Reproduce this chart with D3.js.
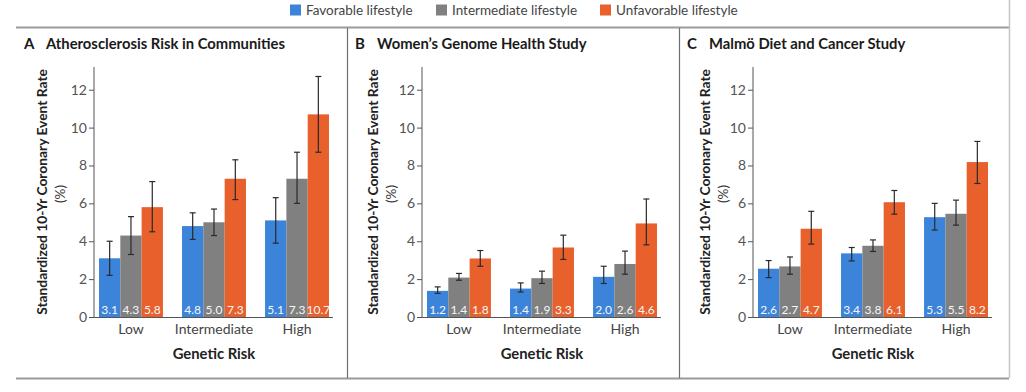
<!DOCTYPE html>
<html>
<head>
<meta charset="utf-8">
<script src="https://cdn.jsdelivr.net/npm/d3@7"></script>
<style>
  body { margin: 0; background: #fff; }
  svg { display: block; font-family: Lato, "Open Sans", sans-serif; }
</style>
</head>
<body>
<svg id="chart"></svg>
<script>
// lifestyle groups (legend / bar colours)
var lifestyles = ["Favorable lifestyle", "Intermediate lifestyle", "Unfavorable lifestyle"];
var geneticRisk = ["Low", "Intermediate", "High"];
var panelLetters = ["A", "B", "C"];
var panelTitles = ["Atherosclerosis Risk in Communities", "Women\u2019s Genome Health Study", "Malm\u00f6 Diet and Cancer Study"];
var yTicks = [0, 2, 4, 6, 8, 10, 12];

// rows = genetic risk (Low, Intermediate, High), columns = lifestyle
var aricRate = [[3.1, 4.3, 5.8], [4.8, 5.0, 7.3], [5.1, 7.3, 10.7]];
var aricLo   = [[2.2, 3.3, 4.5], [4.1, 4.3, 6.2], [3.9, 6.0, 8.7]];
var aricHi   = [[4.0, 5.3, 7.15], [5.5, 5.7, 8.3], [6.3, 8.7, 12.7]];
var aricText = [["3.1", "4.3", "5.8"], ["4.8", "5.0", "7.3"], ["5.1", "7.3", "10.7"]];

var wghsRate = [[1.38, 2.08, 3.09], [1.5, 2.05, 3.67], [2.12, 2.8, 4.94]];
var wghsLo   = [[1.25, 1.94, 2.68], [1.32, 1.77, 3.04], [1.77, 2.26, 3.81]];
var wghsHi   = [[1.59, 2.3, 3.51], [1.8, 2.42, 4.32], [2.68, 3.48, 6.23]];
var wghsText = [["1.2", "1.4", "1.8"], ["1.4", "1.9", "3.3"], ["2.0", "2.6", "4.6"]];

var mdcsRate = [[2.55, 2.67, 4.66], [3.36, 3.76, 6.06], [5.27, 5.45, 8.18]];
var mdcsLo   = [[2.08, 2.26, 3.85], [2.96, 3.46, 5.43], [4.59, 4.85, 7.05]];
var mdcsHi   = [[2.98, 3.17, 5.58], [3.67, 4.07, 6.68], [6.0, 6.17, 9.27]];
var mdcsText = [["2.6", "2.7", "4.7"], ["3.4", "3.8", "6.1"], ["5.3", "5.5", "8.2"]];

var colors = ["#3b84da", "#808080", "#e8602b"];

var panels = [
  { rate: aricRate, lo: aricLo, hi: aricHi, text: aricText },
  { rate: wghsRate, lo: wghsLo, hi: wghsHi, text: wghsText },
  { rate: mdcsRate, lo: mdcsLo, hi: mdcsHi, text: mdcsText }
];

var width = 1026, height = 392;
var svg = d3.select("#chart").attr("width", width).attr("height", height);

// frame lines
var frame = svg.append("g");
frame.append("line").attr("x1", 16).attr("x2", 1009).attr("y1", 27.5).attr("y2", 27.5)
  .attr("stroke", "#9a9a9a").attr("stroke-width", 2);
frame.append("line").attr("x1", 16).attr("x2", 1009).attr("y1", 378.5).attr("y2", 378.5)
  .attr("stroke", "#9a9a9a").attr("stroke-width", 2);
frame.append("line").attr("x1", 1009.5).attr("x2", 1009.5).attr("y1", 0).attr("y2", 378)
  .attr("stroke", "#c4c4c4").attr("stroke-width", 1.5);
[347.5, 679.5].forEach(function (x) {
  frame.append("line").attr("x1", x).attr("x2", x).attr("y1", 28).attr("y2", 378)
    .attr("stroke", "#6f6f6f").attr("stroke-width", 1.2);
});

// legend
var legendX = [290, 436, 600];
var legend = svg.append("g").selectAll("g")
  .data(lifestyles).enter().append("g")
  .attr("transform", (d, i) => "translate(" + legendX[i] + ",0)");
legend.append("rect").attr("x", 0).attr("y", 4.5).attr("width", 11).attr("height", 11)
  .attr("fill", (d, i) => colors[i]);
legend.append("text").attr("x", 16).attr("y", 14.5)
  .style("font-size", "13.5px").attr("fill", "#444").text(d => d);

// one panel per study
var panelX = [16, 347, 679];
var axisX = [94, 422, 753];
var y = d3.scaleLinear().domain([0, 13.2]).range([317, 67]);

panels.forEach(function (p, k) {
  var g = svg.append("g");
  var ax = axisX[k];
  var px = panelX[k];

  g.append("text").attr("x", px + 8).attr("y", 49)
    .style("font-size", "15px").style("font-weight", 700).attr("fill", "#1a1a1a")
    .text(panelLetters[k]);
  g.append("text").attr("x", px + 30).attr("y", 49)
    .style("font-size", "14.8px").style("font-weight", 700).attr("fill", "#1a1a1a")
    .text(panelTitles[k]);

  // y axis title
  g.append("text")
    .attr("transform", "translate(" + (px + 31) + ",192) rotate(-90)")
    .attr("text-anchor", "middle")
    .style("font-size", "13.8px").style("font-weight", 700).attr("fill", "#222")
    .text("Standardized 10-Yr Coronary Event Rate");
  g.append("text")
    .attr("transform", "translate(" + (px + 49) + ",194) rotate(-90)")
    .attr("text-anchor", "middle")
    .style("font-size", "13.5px").attr("fill", "#333")
    .text("(%)");

  var x0 = d3.scaleBand().domain(geneticRisk).range([ax + 5, ax + 235]).paddingInner(0.23).paddingOuter(0);
  var x1 = d3.scaleBand().domain(d3.range(3)).range([0, x0.bandwidth()]);

  var yAxis = g.append("g").attr("transform", "translate(" + ax + ",0)")
    .call(d3.axisLeft(y).tickValues(yTicks).tickSize(5).tickPadding(2));
  yAxis.select(".domain").attr("d", "M0," + y.range()[1] + "V" + y(0)).attr("stroke", "#555");
  yAxis.selectAll(".tick line").attr("stroke", "#555");
  yAxis.selectAll(".tick text").attr("fill", "#555").style("font-size", "14px").style("font-family", "Lato, sans-serif");

  g.append("line").attr("x1", ax).attr("x2", ax + 239).attr("y1", y(0) + 0.5).attr("y2", y(0) + 0.5)
    .attr("stroke", "#555").attr("stroke-width", 1);

  var groups = g.selectAll(".grp").data(geneticRisk).enter().append("g")
    .attr("transform", d => "translate(" + x0(d) + ",0)");

  groups.each(function (risk, r) {
    var gg = d3.select(this);
    var idx = d3.range(3);
    gg.selectAll("rect").data(idx).enter().append("rect")
      .attr("x", i => x1(i)).attr("width", x1.bandwidth())
      .attr("y", i => y(p.rate[r][i])).attr("height", i => y(0) - y(p.rate[r][i]))
      .attr("fill", i => colors[i]);
    gg.selectAll(".lbl").data(idx).enter().append("text")
      .attr("x", i => x1(i) + x1.bandwidth() / 2).attr("y", 313.5)
      .attr("text-anchor", "middle").style("font-size", "12px").attr("fill", "#f6f6f6")
      .text(i => p.text[r][i]);
    var eb = gg.selectAll(".err").data(idx).enter().append("g")
      .attr("stroke", "#2a2a2a").attr("stroke-width", 1.2);
    eb.append("line").attr("x1", i => x1(i) + x1.bandwidth() / 2).attr("x2", i => x1(i) + x1.bandwidth() / 2)
      .attr("y1", i => y(p.lo[r][i])).attr("y2", i => y(p.hi[r][i]));
    eb.append("line").attr("x1", i => x1(i) + x1.bandwidth() / 2 - 3).attr("x2", i => x1(i) + x1.bandwidth() / 2 + 3)
      .attr("y1", i => y(p.lo[r][i])).attr("y2", i => y(p.lo[r][i]));
    eb.append("line").attr("x1", i => x1(i) + x1.bandwidth() / 2 - 3).attr("x2", i => x1(i) + x1.bandwidth() / 2 + 3)
      .attr("y1", i => y(p.hi[r][i])).attr("y2", i => y(p.hi[r][i]));
  });

  g.selectAll(".xl").data(geneticRisk).enter().append("text")
    .attr("x", d => x0(d) + x0.bandwidth() / 2).attr("y", 334)
    .attr("text-anchor", "middle").style("font-size", "14px").attr("fill", "#444")
    .text(d => d);

  g.append("text").attr("x", ax + 120).attr("y", 359)
    .attr("text-anchor", "middle").style("font-size", "14.8px").style("font-weight", 700).attr("fill", "#222")
    .text("Genetic Risk");
});
</script>
</body>
</html>
